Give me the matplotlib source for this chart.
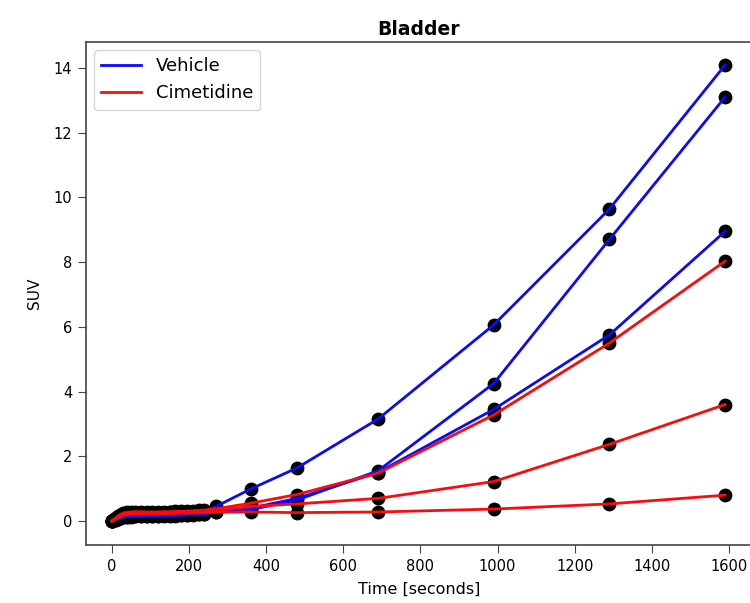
import matplotlib
matplotlib.use("Agg")
import matplotlib.pyplot as plt

# Frame start times (seconds)
times = [0, 5, 10, 15, 20, 25, 30, 40, 50, 60, 75, 90, 105, 120, 135, 150,
         165, 180, 195, 210, 225, 240, 270, 360, 480, 690, 990, 1290, 1590]

# Bladder SUV, vehicle-treated animals
vehicle_1 = [0.0, 0.03, 0.06, 0.09, 0.12, 0.14, 0.16, 0.18, 0.19, 0.20, 0.20,
             0.21, 0.20, 0.21, 0.22, 0.22, 0.23, 0.24, 0.25, 0.26, 0.28, 0.30,
             0.45, 0.99, 1.64, 3.15, 6.06, 9.64, 14.09]
vehicle_2 = [0.0, 0.02, 0.04, 0.07, 0.09, 0.11, 0.12, 0.13, 0.14, 0.15, 0.15,
             0.15, 0.15, 0.16, 0.16, 0.17, 0.17, 0.18, 0.19, 0.20, 0.21, 0.22,
             0.28, 0.35, 0.65, 1.55, 4.25, 8.70, 13.10]
vehicle_3 = [0.0, 0.02, 0.05, 0.08, 0.10, 0.12, 0.13, 0.14, 0.15, 0.16, 0.16,
             0.16, 0.17, 0.17, 0.18, 0.18, 0.19, 0.20, 0.20, 0.21, 0.22, 0.23,
             0.30, 0.40, 0.70, 1.50, 3.45, 5.75, 8.95]

# Bladder SUV, cimetidine-treated animals
cimetidine_1 = [0.0, 0.05, 0.10, 0.15, 0.19, 0.22, 0.25, 0.27, 0.28, 0.29, 0.29,
                0.28, 0.28, 0.28, 0.29, 0.29, 0.30, 0.30, 0.31, 0.32, 0.33, 0.34,
                0.38, 0.55, 0.82, 1.48, 3.28, 5.50, 8.03]
cimetidine_2 = [0.0, 0.04, 0.08, 0.12, 0.16, 0.19, 0.21, 0.23, 0.24, 0.25, 0.25,
                0.25, 0.25, 0.26, 0.26, 0.27, 0.27, 0.28, 0.28, 0.29, 0.30, 0.30,
                0.33, 0.45, 0.53, 0.70, 1.22, 2.37, 3.60]
cimetidine_3 = [0.0, 0.03, 0.07, 0.10, 0.13, 0.16, 0.18, 0.20, 0.21, 0.22, 0.22,
                0.22, 0.22, 0.23, 0.23, 0.23, 0.24, 0.24, 0.25, 0.25, 0.25, 0.26,
                0.27, 0.28, 0.26, 0.28, 0.37, 0.53, 0.80]

groups = [
    ("Vehicle", "#0a0aff", [vehicle_1, vehicle_2, vehicle_3]),
    ("Cimetidine", "#ff0a0a", [cimetidine_1, cimetidine_2, cimetidine_3]),
]

plt.rcParams["font.family"] = ["DejaVu Sans"]
plt.rcParams["font.size"] = 10.5

fig = plt.figure(figsize=(7.5, 6.03), dpi=100)
ax = fig.add_axes([0.1147, 0.0962, 0.888, 0.834])

for label, color, series in groups:
    for i, values in enumerate(series):
        ax.scatter(times, values, s=80, color="black", zorder=2)
        ax.plot(times, values, color=color, lw=2.0, zorder=3,
                label=label if i == 0 else None)

ax.set_xlim(-67, 1660)
ax.set_ylim(-0.74, 14.8)
ax.set_xticks(range(0, 1601, 200))
ax.set_yticks(range(0, 15, 2))
ax.tick_params(length=5.5, pad=4.5, labelsize=10.5, color="#444444")
for side in ax.spines.values():
    side.set_color("#444444")
    side.set_linewidth(1.2)

ax.set_title("Bladder", fontweight="bold", fontsize=13.5, pad=5)
ax.set_xlabel("Time [seconds]", fontsize=11.5, labelpad=6)
ax.set_ylabel("SUV", fontsize=11, labelpad=8)

ax.legend(loc="upper left", fontsize=13, handlelength=2.2,
          borderaxespad=0.45)

fig.savefig("out.png", dpi=100)
